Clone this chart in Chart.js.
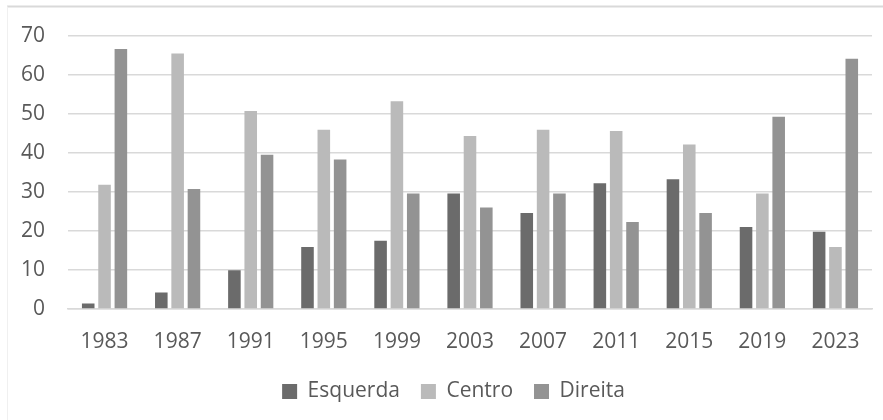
<!DOCTYPE html>
<html>
<head>
<meta charset="utf-8">
<script src="https://cdn.jsdelivr.net/npm/chart.js@4/dist/chart.umd.min.js"></script>
<style>
  html, body { margin: 0; padding: 0; background: #ffffff; }
  #wrap { width: 883px; height: 420px; position: relative; }
</style>
</head>
<body>
<div id="wrap"><canvas id="c" width="883" height="420"></canvas></div>
<script>
const categories = ["1983", "1987", "1991", "1995", "1999", "2003", "2007", "2011", "2015", "2019", "2023"];
const esquerda = [1.4, 4.2, 9.9, 15.9, 17.5, 29.6, 24.6, 32.2, 33.2, 21.0, 19.8];
const centro   = [31.8, 65.4, 50.7, 45.9, 53.2, 44.3, 45.9, 45.6, 42.1, 29.6, 15.9];
const direita  = [66.6, 30.7, 39.5, 38.3, 29.6, 26.0, 29.6, 22.3, 24.6, 49.2, 64.1];
const seriesNames = ["Esquerda", "Centro", "Direita"];
const yTicks = [0, 10, 20, 30, 40, 50, 60, 70];

const FONT = "'Open Sans', 'Noto Sans', sans-serif";
const TXT = "#595959";

const frame = {
  id: 'frame',
  afterLayout(chart) {
    const lg = chart.legend;
    if (lg) { lg.left += 17.5; lg.right += 17.5; }
  },
  beforeDraw(chart) {
    const ctx = chart.ctx;
    ctx.save();
    ctx.strokeStyle = '#d9d9d9';
    ctx.lineWidth = 2;
    ctx.beginPath();
    ctx.moveTo(7, 6.5);
    ctx.lineTo(883, 6.5);
    ctx.stroke();
    ctx.strokeStyle = '#f0f0f0';
    ctx.lineWidth = 1;
    ctx.beginPath();
    ctx.moveTo(7.5, 6.5);
    ctx.lineTo(7.5, 420);
    ctx.stroke();
    ctx.restore();
  }
};

new Chart(document.getElementById('c'), {
  type: 'bar',
  data: {
    labels: categories,
    datasets: [
      { label: seriesNames[0], data: esquerda, backgroundColor: '#6b6b6b' },
      { label: seriesNames[1], data: centro,   backgroundColor: '#bababa' },
      { label: seriesNames[2], data: direita,  backgroundColor: '#939393' }
    ]
  },
  options: {
    responsive: false,
    animation: false,
    devicePixelRatio: 1,
    layout: { padding: { left: 0, right: 11, top: 33, bottom: 8 } },
    datasets: { bar: { categoryPercentage: 0.67, barPercentage: 0.77, borderWidth: 0 } },
    plugins: {
      tooltip: { enabled: false },
      legend: {
        position: 'bottom',
        labels: {
          color: TXT,
          font: { family: FONT, size: 21 },
          boxWidth: 15,
          boxHeight: 15,
          padding: 21
        }
      }
    },
    scales: {
      x: {
        offset: true,
        grid: { display: false, drawTicks: false },
        border: { display: true, color: '#d9d9d9', width: 1.5 },
        ticks: { color: TXT, font: { family: FONT, size: 21 }, padding: 20, maxRotation: 0 },
        afterFit(s) { s.height = 51; }
      },
      y: {
        min: 0, max: 70,
        afterBuildTicks(s) { s.ticks = yTicks.map(v => ({ value: v })); },
        grid: { color: '#d9d9d9', lineWidth: 1.5, drawTicks: false },
        border: { display: false },
        ticks: { color: TXT, font: { family: FONT, size: 21 }, padding: 23, stepSize: 10 },
        afterFit(s) { s.width = 68; }
      }
    }
  },
  plugins: [frame]
});
</script>
</body>
</html>
